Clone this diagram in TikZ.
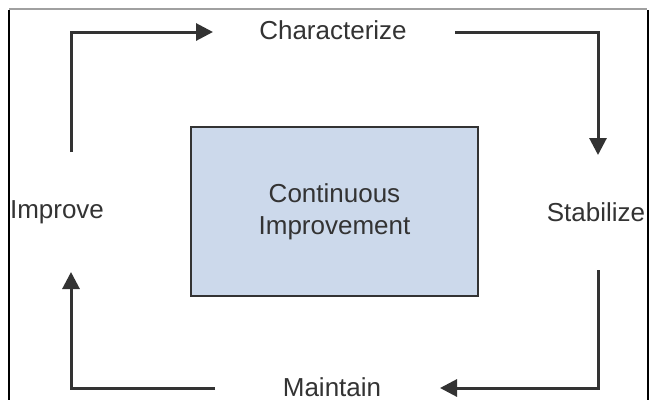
\documentclass[tikz,border=0pt]{standalone}
\usepackage{fontspec}
\setmainfont{Liberation Sans}
\usetikzlibrary{arrows.meta}
\definecolor{boxfill}{HTML}{CCD9EB}
\definecolor{ink}{HTML}{333333}
\definecolor{framegray}{HTML}{A0A0A0}
\begin{document}
\begin{tikzpicture}[x=1pt,y=-1pt,
  lbl/.style={font=\fontsize{26}{30}\selectfont, text=ink, inner sep=0pt},
  flow/.style={draw=ink, line width=3pt, -{Triangle[length=17pt,width=17pt]}},
  centerbox/.style={draw=ink, line width=2.5pt, fill=boxfill, minimum width=287pt, minimum height=169pt, inner sep=0pt, align=center, font=\fontsize{26}{32}\selectfont, text=ink}]
\useasboundingbox (0,0) rectangle (649,400);
% frame
\draw[framegray, line width=1.5pt] (9,9) -- (647,9);
\draw[black, line width=2pt] (9,10) -- (9,400);
\draw[black, line width=2pt] (647.5,10) -- (647.5,400);
% nodes
\node[centerbox] (ci) at (334.5,211.5) {Continuous\\Improvement};
\node[lbl] (char) at (333,30) {Characterize};
\node[lbl] (stab) at (596,212) {Stabilize};
\node[lbl] (impr) at (57,212) {Improve};
\node[lbl] (main) at (332,387) {Maintain};
% connector ends
\coordinate (s1) at (71,152);
\coordinate (e1) at (213,32);
\coordinate (s2) at (455,32);
\coordinate (e2) at (598,155);
\coordinate (s3) at (598,270);
\coordinate (e3) at (440,388);
\coordinate (s4) at (215,388);
\coordinate (e4) at (71,272);
\draw[flow] (s1) |- (e1);
\draw[flow] (s2) -| (e2);
\draw[flow] (s3) |- (e3);
\draw[flow] (s4) -| (e4);
\end{tikzpicture}
\end{document}
